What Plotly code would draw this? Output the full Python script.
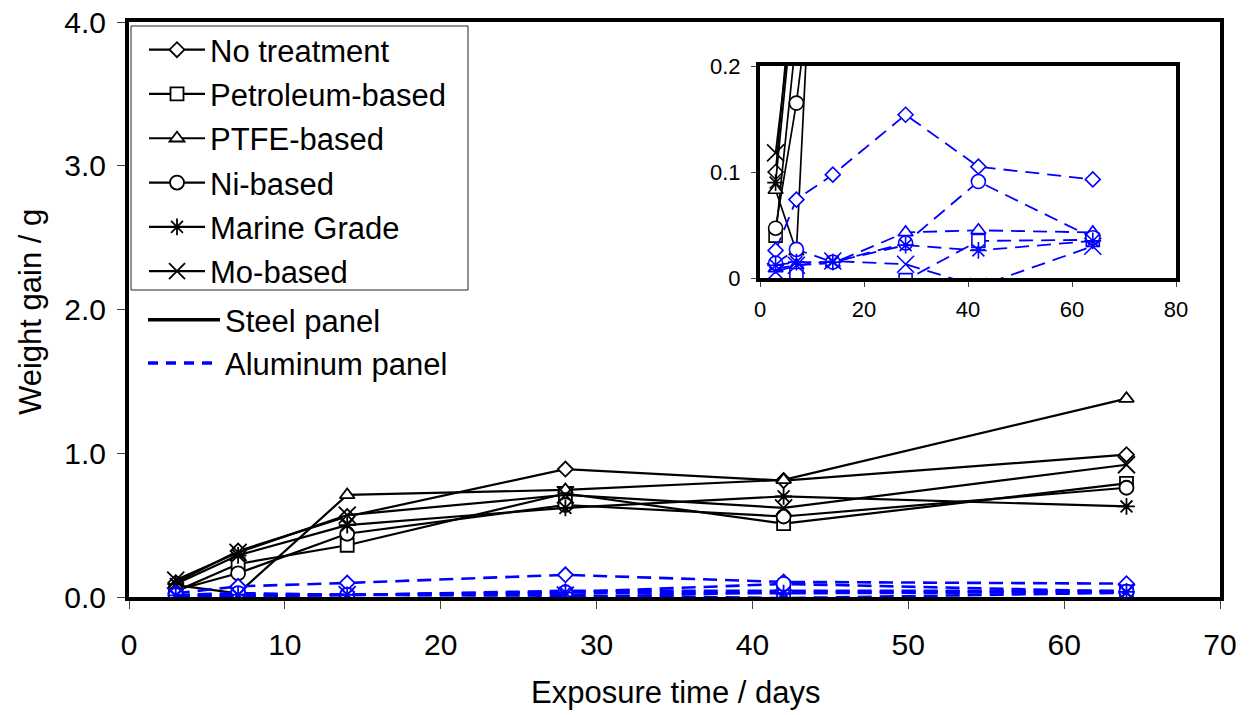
import plotly.graph_objects as go

# ---------------- data ----------------
DAYS = [3, 7, 14, 28, 42, 64]
SERIES = ["No treatment", "Petroleum-based", "PTFE-based", "Ni-based", "Marine Grade", "Mo-based"]

steel_no_treatment = [0.10, 0.32, 0.56, 0.89, 0.81, 0.99]
steel_petroleum = [0.04, 0.23, 0.36, 0.72, 0.51, 0.79]
steel_ptfe = [0.083, 0.025, 0.71, 0.745, 0.815, 1.38]
steel_ni = [0.047, 0.165, 0.44, 0.64, 0.56, 0.76]
steel_marine = [0.09, 0.29, 0.50, 0.62, 0.70, 0.63]
steel_mo = [0.118, 0.31, 0.57, 0.71, 0.62, 0.92]

al_no_treatment = [0.026, 0.074, 0.0975, 0.154, 0.105, 0.093]
al_petroleum = [-0.015, 0.004, -0.008, -0.002, 0.035, 0.036]
al_ptfe = [0.009, 0.012, 0.014, 0.043, 0.045, 0.043]
al_ni = [0.014, 0.027, 0.015, 0.033, 0.091, 0.038]
al_marine = [0.012, 0.015, 0.015, 0.031, 0.026, 0.035]
al_mo = [0.006, 0.012, 0.016, 0.013, -0.008, 0.030]

STEEL = [steel_no_treatment, steel_petroleum, steel_ptfe, steel_ni, steel_marine, steel_mo]
ALUM = [al_no_treatment, al_petroleum, al_ptfe, al_ni, al_marine, al_mo]

MAIN_X_TICKS = [0, 10, 20, 30, 40, 50, 60, 70]
MAIN_Y_TICKS = [0, 1, 2, 3, 4]
INSET_X_TICKS = [0, 20, 40, 60, 80]
INSET_Y_TICKS = [0, 0.1, 0.2]

# ---------------- styles ----------------
SYMBOLS = ["diamond", "square", "triangle-up", "circle", "asterisk-open", "x-thin-open"]
SIZES = [11.5, 13, 13, 14, 14, 17]
FILLED = [True, True, True, True, False, False]
BLACK = "#000000"
BLUE = "#0000FF"
FONT = "Liberation Sans, Arial, sans-serif"

# pixel geometry of the plot areas
W, H = 1250, 715
L, R, T, B = 129, 1220, 22, 597
PW, PH = R - L, B - T


def px_x(p):
    return (p - L) / PW


def px_y(p):
    return (B - p) / PH


fig = go.Figure()


def marker(i, color, lw):
    return dict(
        symbol=SYMBOLS[i],
        size=SIZES[i],
        color="white" if FILLED[i] else color,
        line=dict(color=color, width=lw),
    )


for axes, lw_line, lw_al, lw_mk in [(("x", "y"), 2.2, 2.6, 1.8), (("x2", "y2"), 1.7, 1.8, 1.6)]:
    for i, name in enumerate(SERIES):
        fig.add_trace(go.Scatter(
            x=DAYS, y=STEEL[i], name=name, mode="lines+markers",
            xaxis=axes[0], yaxis=axes[1],
            line=dict(color=BLACK, width=lw_line),
            marker=marker(i, BLACK, lw_mk),
            legend="legend", legendgroup=name,
            showlegend=(axes[0] == "x"),
        ))
    for i, name in enumerate(SERIES):
        fig.add_trace(go.Scatter(
            x=DAYS, y=ALUM[i], name=name + " (Al)", mode="lines+markers",
            xaxis=axes[0], yaxis=axes[1],
            line=dict(color=BLUE, width=lw_al, dash="14px,8px"),
            marker=marker(i, BLUE, lw_mk),
            showlegend=False,
        ))

# panel-type legend entries
fig.add_trace(go.Scatter(x=[None], y=[None], name="Steel panel", mode="lines",
                         line=dict(color=BLACK, width=3.5), legend="legend2"))
fig.add_trace(go.Scatter(x=[None], y=[None], name="Aluminum panel", mode="lines",
                         line=dict(color=BLUE, width=3.5, dash="10px,8px"), legend="legend2"))

axis_common = dict(
    showline=True, linecolor=BLACK, mirror=True, showgrid=False, zeroline=False,
    ticks="outside", tickcolor="#444", tickwidth=1,
)

fig.update_layout(
    width=W, height=H,
    margin=dict(l=L, r=W - R, t=T, b=H - B, autoexpand=False),
    paper_bgcolor="white", plot_bgcolor="white",
    font=dict(family=FONT, color=BLACK),
    xaxis=dict(range=[0, 70], tickvals=MAIN_X_TICKS, linewidth=4, ticklen=8,
               tickfont=dict(size=30), ticklabelstandoff=10, domain=[0, 1], **axis_common),
    yaxis=dict(range=[0, 4], tickvals=MAIN_Y_TICKS, tickformat=".1f", linewidth=4, ticklen=8,
               tickfont=dict(size=30), ticklabelstandoff=5, domain=[0, 1], **axis_common),
    xaxis2=dict(range=[0, 80], tickvals=INSET_X_TICKS, linewidth=4, ticklen=5,
                tickfont=dict(size=22), ticklabelstandoff=4, anchor="y2",
                domain=[px_x(760), px_x(1176)], **axis_common),
    yaxis2=dict(range=[0, 0.2], tickvals=INSET_Y_TICKS, linewidth=4, ticklen=5,
                tickfont=dict(size=22), ticklabelstandoff=6, anchor="x2",
                domain=[px_y(278), px_y(66)], **axis_common),
    legend=dict(
        x=px_x(144), y=px_y(23), xanchor="left", yanchor="top",
        bgcolor="rgba(0,0,0,0)", borderwidth=0, font=dict(size=31),
        itemwidth=56, tracegroupgap=1, traceorder="grouped",
    ),
    legend2=dict(
        x=px_x(143), y=px_y(293), xanchor="left", yanchor="top",
        bgcolor="rgba(0,0,0,0)", borderwidth=0, font=dict(size=31),
        itemwidth=72,
    ),
    shapes=[dict(type="rect", xref="paper", yref="paper",
                 x0=px_x(131), x1=px_x(468), y0=px_y(290), y1=px_y(26),
                 line=dict(color="#222", width=1), fillcolor="rgba(0,0,0,0)", layer="below")],
    annotations=[
        dict(text="Exposure time / days", xref="paper", yref="paper",
             x=px_x(675), y=px_y(692), xanchor="center", yanchor="middle",
             showarrow=False, font=dict(size=31)),
        dict(text="Weight gain / g", xref="paper", yref="paper",
             x=px_x(30), y=px_y(312), xanchor="center", yanchor="middle",
             textangle=-90, showarrow=False, font=dict(size=31)),
    ],
)

fig.write_html("out.html")
